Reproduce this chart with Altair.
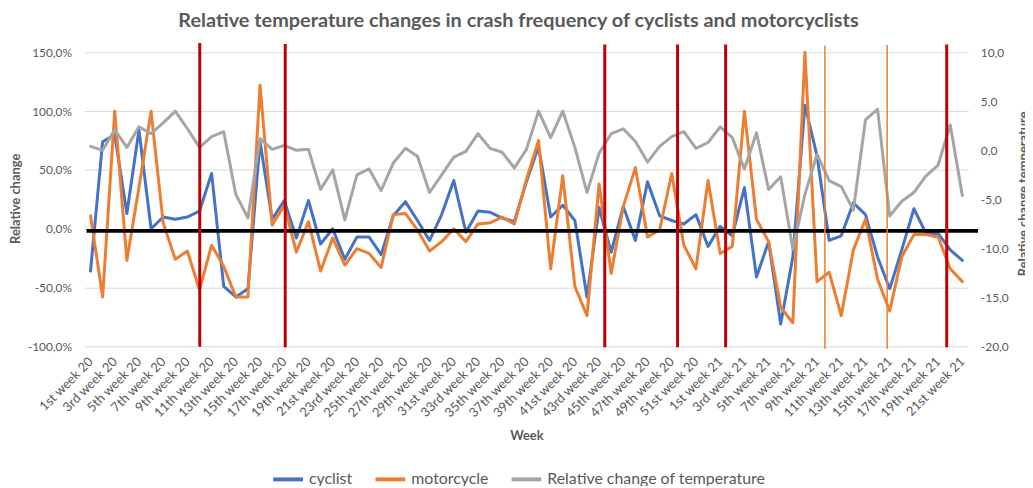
import altair as alt
import pandas as pd


def ordinal(n):
    if 10 <= n % 100 <= 20:
        suf = "th"
    else:
        suf = {1: "st", 2: "nd", 3: "rd"}.get(n % 10, "th")
    return f"{n}{suf}"


# Categories: weeks 1-52 of 2020 and weeks 1-21 of 2021
weeks = [f"{ordinal(k)} week 20" for k in range(1, 53)] + [f"{ordinal(k)} week 21" for k in range(1, 22)]

# Relative change (%) - left axis
cyclist = [-36, 74, 80, 13, 84, 0, 10, 8, 10, 15,
           47, -49, -58, -51, 74, 8, 24, -8, 24, -13,
           0, -26, -7, -7, -22, 11, 23, 7, -10, 12,
           41, -3, 15, 14, 9, 6, 40, 70, 10, 20,
           7, -58, 18, -20, 19, -10, 40, 11, 7, 4,
           12, -15, 2, -6, 35, -41, -11, -81, -24, 105,
           62, -10, -6, 22, 12, -24, -51, -18, 17, -4,
           -4, -18, -27]

motorcycle = [11, -58, 100, -27, 35, 100, 5, -26, -19, -52,
              -14, -32, -58, -58, 122, 3, 20, -20, 6, -36,
              -8, -31, -17, -21, -33, 12, 13, -1, -19, -11,
              0, -11, 4, 5, 10, 4, 42, 75, -34, 45,
              -49, -74, 38, -38, 19, 52, -7, -1, 47, -14,
              -34, 41, -21, -15, 100, 8, -11, -67, -80, 150,
              -45, -37, -74, -18, 8, -43, -70, -24, -5, -5,
              -7, -34, -45]

# Relative change of temperature - right axis
temperature = [0.4, 0.0, 2.1, 0.3, 2.4, 1.7, 2.8, 4.0, 2.2, 0.3,
               1.4, 1.9, -4.5, -6.9, 1.2, 0.1, 0.5, 0.0, 0.1, -4.0,
               -2.0, -7.1, -2.5, -1.9, -4.1, -1.3, 0.2, -0.6, -4.3, -2.5,
               -0.7, -0.1, 1.7, 0.2, -0.2, -1.8, 0.1, 4.0, 1.3, 4.0,
               0.3, -4.3, -0.3, 1.7, 2.2, 0.9, -1.2, 0.4, 1.4, 1.9,
               0.2, 0.8, 2.4, 1.3, -1.9, 1.8, -4.0, -2.7, -10.1, -4.5,
               -0.4, -3.1, -3.7, -6.1, 3.1, 4.2, -6.7, -5.2, -4.3, -2.6,
               -1.5, 2.6, -4.6]

series_names = ["cyclist", "motorcycle", "Relative change of temperature"]
series_colors = ["#4472C4", "#ED7D31", "#A5A5A5"]

# Vertical marker lines (position in week index units, extents in temperature-axis units)
red_pos = [9.02, 16.08, 42.47, 48.48, 52.45, 70.71]
red_top = [10.95, 10.85, 10.8, 10.8, 10.8, 10.8]
red_bottom = [-20.05, -20.1, -20.1, -20.1, -20.1, -20.1]
orange_pos = [60.65, 65.79]
orange_top = [10.7, 10.75]
orange_bottom = [-20.25, -20.25]

# Black reference line (slightly below 0 %), in temperature-axis units
black_x = [-0.33]
black_x2 = [73.3]
black_y = [-8.22]

n = len(weeks)
GREY = "#595959"
FONT = "Lato"

df_lr = pd.DataFrame({
    "idx": list(range(n)) * 2,
    "week": weeks * 2,
    "series": ["cyclist"] * n + ["motorcycle"] * n,
    "value": cyclist + motorcycle,
})
df_t = pd.DataFrame({
    "idx": list(range(n)),
    "week": weeks,
    "series": ["Relative change of temperature"] * n,
    "value": temperature,
})
df_red = pd.DataFrame({"pos": red_pos, "top": red_top, "bottom": red_bottom})
df_or = pd.DataFrame({"pos": orange_pos, "top": orange_top, "bottom": orange_bottom})
df_black = pd.DataFrame({"x": black_x, "x2": black_x2, "y": black_y})

week_param = alt.param(name="weekLabels", value=weeks)

xscale = alt.Scale(domain=[-0.5, n - 0.5], nice=False, zero=False)
yscale_l = alt.Scale(domain=[-100, 150], nice=False, zero=False)
yscale_r = alt.Scale(domain=[-20, 10], nice=False, zero=False)

x_axis = alt.Axis(
    values=list(range(0, n, 2)), labelExpr="weekLabels[datum.value]", labelAngle=-45,
    labelAlign="right", labelBaseline="middle", labelPadding=13,
    labelFontSize=13, labelFont=FONT, labelColor=GREY, labelFlush=False,
    labelOverlap=False, title="Week", titleFont=FONT, titleFontSize=13,
    titleFontWeight="bold", titleColor=GREY, titleY=90, titleBaseline="middle",
    grid=False, domain=False, ticks=False, orient="bottom",
)


def xenc(field):
    return alt.X(f"{field}:Q", scale=xscale, axis=x_axis)


color_enc = alt.Color(
    "series:N",
    scale=alt.Scale(domain=series_names, range=series_colors),
    legend=alt.Legend(
        title=None, orient="none", legendX=188, legendY=413, direction="horizontal",
        symbolType="stroke", symbolStrokeWidth=4, symbolSize=900,
        labelFontSize=16, labelFont=FONT, labelColor=GREY, columnPadding=15,
        labelOffset=4, labelLimit=400,
    ),
)

left = alt.Chart(df_lr).mark_line(strokeWidth=3, strokeJoin="round", strokeCap="round").encode(
    x=xenc("idx"),
    y=alt.Y("value:Q", scale=yscale_l, axis=alt.Axis(
        orient="left", values=[-100, -50, 0, 50, 100, 150],
        labelExpr="(datum.value < 0 ? '-' : '') + replace(format(abs(datum.value), '.1f'), '.', ',') + '%'",
        labelFontSize=12, labelFont=FONT, labelColor=GREY, labelPadding=13,
        title="Relative change", titleFont=FONT, titleFontSize=13, titleFontWeight="bold",
        titleColor=GREY, titleAngle=270, titleX=-69, titleY=147, titleBaseline="middle",
        titleAlign="center", grid=True, gridColor="#D9D9D9", gridWidth=1,
        domain=False, ticks=False,
    )),
    color=color_enc,
)

gray = alt.Chart(df_t).mark_line(strokeWidth=3, strokeJoin="round", strokeCap="round").encode(
    x=xenc("idx"),
    y=alt.Y("value:Q", scale=yscale_r, axis=alt.Axis(
        orient="right", values=[-20, -15, -10, -5, 0, 5, 10],
        labelExpr="(datum.value < 0 ? '-' : '') + replace(format(abs(datum.value), '.1f'), '.', ',')",
        labelFontSize=12, labelFont=FONT, labelColor=GREY, labelPadding=12,
        title="Relative change temperature", titleFont=FONT, titleFontSize=13,
        titleFontWeight="bold", titleColor=GREY, titleAngle=270, titleX=50, titleY=142,
        titleBaseline="top", titleAlign="center", grid=False, domain=False, ticks=False,
    )),
    color=color_enc,
)

black = alt.Chart(df_black).mark_rule(color="black", strokeWidth=4).encode(
    x=xenc("x"),
    x2="x2:Q",
    y=alt.Y("y:Q", scale=yscale_r, axis=None),
)

red = alt.Chart(df_red).mark_rule(color="#C00000", strokeWidth=3).encode(
    x=xenc("pos"),
    y=alt.Y("top:Q", scale=yscale_r, axis=None),
    y2="bottom:Q",
)

orange = alt.Chart(df_or).mark_rule(color="#ED7D31", strokeWidth=1.5).encode(
    x=xenc("pos"),
    y=alt.Y("top:Q", scale=yscale_r, axis=None),
    y2="bottom:Q",
)

chart = alt.layer(left, gray, black, red, orange).resolve_scale(y="independent").add_params(
    week_param
).properties(
    width=890,
    height=296,
    padding={"left": 77, "top": 43, "right": 57, "bottom": 139},
    autosize=alt.AutoSizeParams(type="none"),
    background="white",
    title=alt.TitleParams(
        text="Relative temperature changes in crash frequency of cyclists and motorcyclists",
        font=FONT, fontSize=20, fontWeight="bold", color=GREY, anchor="middle",
        dx=-8, offset=11,
    ),
).configure_view(stroke=None)

chart.save("out.html", embed_options={"renderer": "svg", "actions": False})
